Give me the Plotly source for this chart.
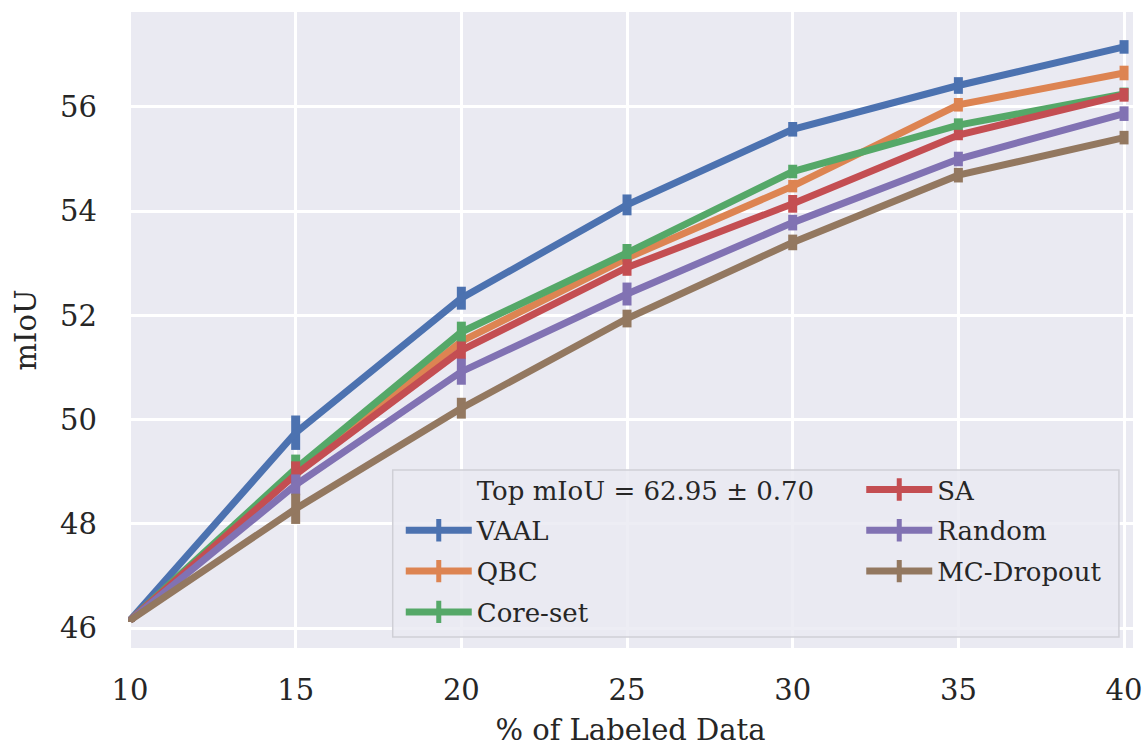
import plotly.graph_objects as go

x_pct = [10, 15, 20, 25, 30, 35, 40]

series_names = ["VAAL", "QBC", "Core-set", "SA", "Random", "MC-Dropout"]
vaal = [46.15, 49.75, 52.33, 54.12, 55.57, 56.41, 57.15]
qbc = [46.15, 49.00, 51.50, 53.10, 54.48, 56.04, 56.65]
coreset = [46.15, 49.06, 51.68, 53.20, 54.76, 55.65, 56.25]
sa = [46.15, 48.95, 51.33, 52.92, 54.14, 55.46, 56.23]
random_ = [46.15, 48.75, 50.92, 52.41, 53.78, 55.00, 55.87]
mcdrop = [46.15, 48.29, 50.22, 51.94, 53.40, 54.69, 55.41]

vaal_err = [0.03, 0.33, 0.22, 0.20, 0.14, 0.16, 0.13]
qbc_err = [0.03, 0.20, 0.20, 0.15, 0.12, 0.13, 0.14]
coreset_err = [0.03, 0.27, 0.20, 0.17, 0.13, 0.13, 0.12]
sa_err = [0.03, 0.25, 0.17, 0.16, 0.17, 0.10, 0.13]
random_err = [0.03, 0.20, 0.25, 0.22, 0.15, 0.14, 0.14]
mcdrop_err = [0.03, 0.29, 0.20, 0.17, 0.15, 0.14, 0.13]

colors = ["#4C72B0", "#DD8452", "#55A868", "#C44E52", "#8172B3", "#937860"]
legend_title = "Top mIoU = 62.95 ± 0.70"
plot_title = "Cityscapes"

values = [vaal, qbc, coreset, sa, random_, mcdrop]
errors = [vaal_err, qbc_err, coreset_err, sa_err, random_err, mcdrop_err]
# which legend column each series sits in
legend_column = {"VAAL": "legend", "QBC": "legend", "Core-set": "legend",
                 "SA": "legend2", "Random": "legend2", "MC-Dropout": "legend2"}

FONT = "DejaVu Serif"
TXT = "#262626"

fig = go.Figure()

for name, ys, es, c in zip(series_names, values, errors, colors):
    fig.add_trace(go.Scatter(
        x=x_pct, y=ys, mode="lines", name=name, showlegend=False,
        line=dict(color=c, width=7),
        error_y=dict(type="data", array=es, visible=True, color=c, thickness=9, width=0),
    ))

# legend entries (each in its own group so rows can be spaced)
fig.add_trace(go.Scatter(
    x=[None], y=[None], mode="lines", name=legend_title, legend="legend",
    legendgroup="g_title",
    line=dict(color="rgba(0,0,0,0)", width=0), hoverinfo="skip"))
for name, c in zip(series_names, colors):
    fig.add_trace(go.Scatter(
        x=[None], y=[None], mode="lines+markers", name=name,
        legend=legend_column[name], legendgroup="g_" + name,
        line=dict(color=c, width=7),
        marker=dict(symbol="line-ns", size=16, color=c, line=dict(color=c, width=8)),
        hoverinfo="skip"))

# legend frame behind both legend columns
fig.add_shape(
    type="rect", xref="paper", yref="paper",
    x0=0.2634, x1=0.986, y0=0.0173, y1=0.2799,
    fillcolor="rgba(234,234,242,0.85)", line=dict(color="#CFCFD6", width=1.5),
    layer="above")

fig.add_annotation(
    text=plot_title, xref="paper", yref="paper", x=0.5, y=1.0165,
    xanchor="center", yanchor="bottom", showarrow=False,
    font=dict(family=FONT, size=30, color=TXT))

leg_common = dict(
    orientation="v", yanchor="top", xanchor="left",
    bgcolor="rgba(0,0,0,0)", borderwidth=0,
    font=dict(family=FONT, size=26, color=TXT),
    itemwidth=66, traceorder="grouped", tracegroupgap=4,
    itemclick=False, itemdoubleclick=False,
)

fig.update_layout(
    width=1145, height=747,
    margin=dict(l=128, r=12, t=12, b=99),
    paper_bgcolor="white", plot_bgcolor="#EAEAF2",
    font=dict(family=FONT, size=29, color=TXT),
    showlegend=True,
    legend=dict(x=0.2714, y=0.286, **leg_common),
    legend2=dict(x=0.7296, y=0.286, **leg_common),
)

fig.update_xaxes(
    range=[9.94, 40.27], tickvals=[10, 15, 20, 25, 30, 35, 40],
    showgrid=True, gridcolor="white", gridwidth=2.5, zeroline=False,
    showline=False, ticks="", ticklabelstandoff=22, automargin=False,
    tickfont=dict(family=FONT, size=29, color=TXT),
    title=dict(text="% of Labeled Data", font=dict(family=FONT, size=29, color=TXT), standoff=13),
)
fig.update_yaxes(
    range=[45.62, 57.82], tickvals=[46, 48, 50, 52, 54, 56],
    showgrid=True, gridcolor="white", gridwidth=2.5, zeroline=False,
    showline=False, ticks="", ticklabelstandoff=30, automargin=False,
    tickfont=dict(family=FONT, size=29, color=TXT),
    title=dict(text="mIoU", font=dict(family=FONT, size=29, color=TXT), standoff=14),
)

fig.write_html("out.html", config={"displayModeBar": False},
               post_script="document.body.style.margin='0px';")
